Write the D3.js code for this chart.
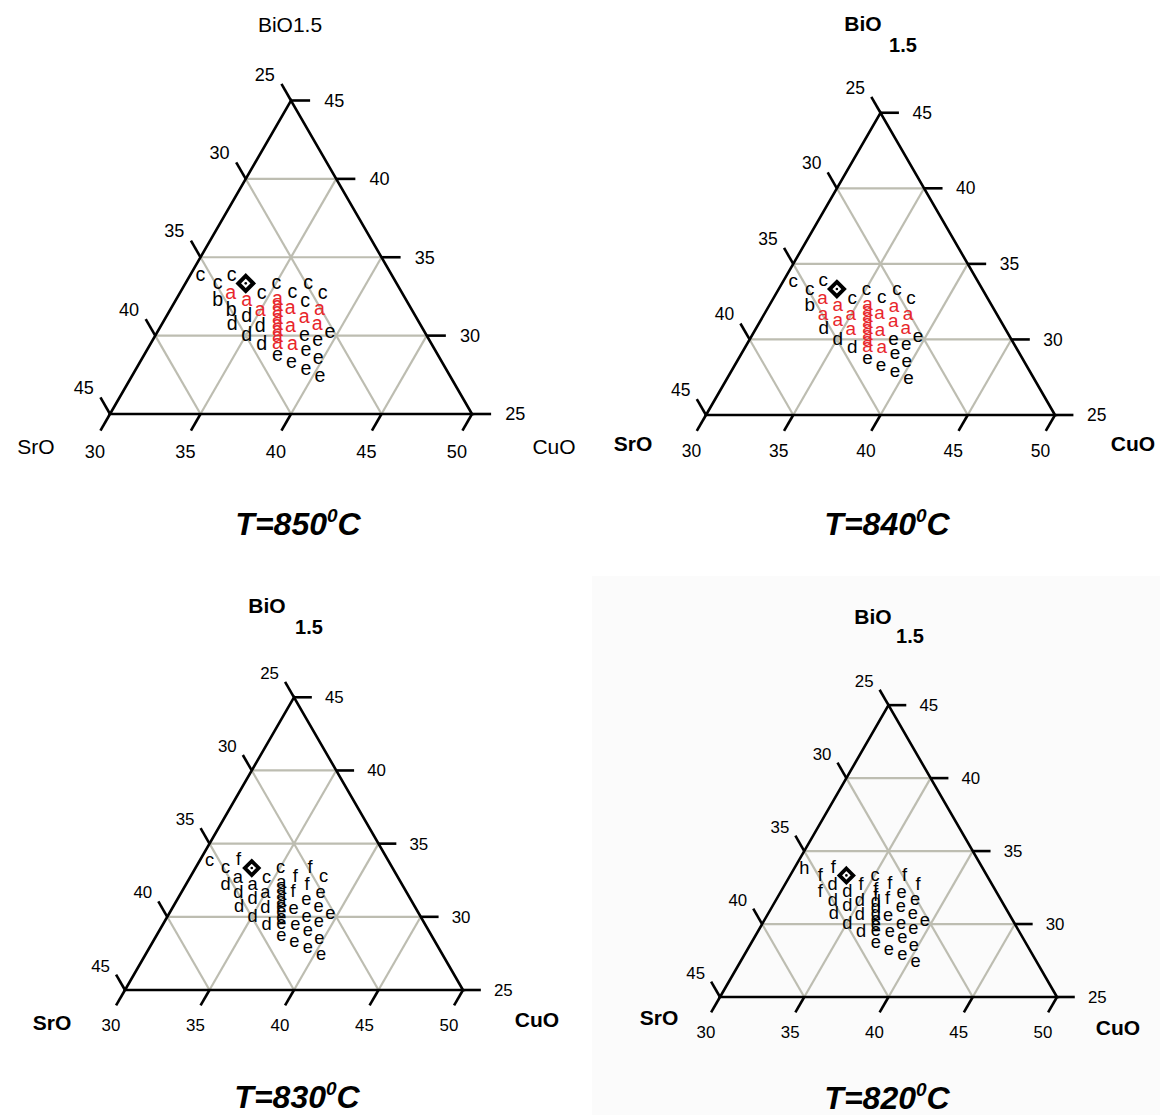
<!DOCTYPE html>
<html>
<head>
<meta charset="utf-8">
<script src="https://cdn.jsdelivr.net/npm/d3@7"></script>
<style>
  html, body { margin: 0; padding: 0; background: #ffffff; }
  svg { display: block; font-family: Arial, "Liberation Sans", sans-serif; }
</style>
</head>
<body>
<svg id="chart" width="1160" height="1115"></svg>
<script>
// Sample compositions in mol %: BiO1.5 and CuO (SrO = 100 - BiO1.5 - CuO)
const bismuth = [33.8, 33.85, 33.3, 33.3, 33.3, 32.65, 32.65, 32.75, 32.7, 32.2,
                 32.2, 32.15, 31.6, 31.6, 31.7, 31.65, 31.2, 31.15, 30.7, 30.6,
                 30.55, 30.7, 30.0, 30.0, 30.2, 29.45, 29.45, 29.65, 29.05, 28.7,
                 28.5, 28.25, 27.85, 27.4,
                 32.3, 31.9, 31.5, 31.1, 30.7, 30.3, 29.9, 29.5];
const copper  = [30.6, 32.3, 31.8, 35.05, 36.8, 32.85, 34.55, 36.2, 37.9, 32.35,
                 33.95, 37.2, 33.4, 35.0, 36.6, 38.25, 34.45, 37.65, 33.9, 35.5,
                 37.2, 38.6, 35.05, 38.25, 39.55, 36.15, 37.85, 39.15, 38.8, 37.4,
                 39.75, 38.4, 39.4, 40.4,
                 35.6, 35.8, 36.0, 36.2, 36.4, 36.6, 36.8, 37.0];

// Phase assemblage found for each sample after annealing
const phases850 = ["c","c","c","c","c","a","c","c","c","b","a","c","b","a","a","a","d","a","d","d",
                   "a","a","d","e","e","d","a","e","e","e","e","e","e","e",
                   "a","a","a","a","a","a","a","a"];
const phases840 = ["c","c","c","c","c","a","c","c","c","b","a","a","a","a","a","a","a","a","d","a",
                   "a","a","d","e","e","d","a","e","e","e","e","e","e","e",
                   "a","a","a","a","a","a","a","a"];
const phases830 = ["c","f","c","c","f","a","c","f","c","d","a","f","d","a","f","e","d","e","d","d",
                   "e","e","d","e","e","d","e","e","e","e","e","e","e","e",
                   "a","a","a","a","e","e","e","e"];
const phases820 = ["h","f","f","c","f","d","f","f","f","f","d","e","d","d","f","e","d","e","d","d",
                   "e","e","d","e","e","d","e","e","e","e","e","e","e","e",
                   "f","f","d","d","d","e","e","e"];

// Nominal Bi:Sr:Cu = 1:1:1 composition
const nominal = { bi: 100 / 3, cu: 100 / 3 };

// Axis ticks (mol %)
const cuTicks = [30, 35, 40, 45, 50];
const srTicks = [25, 30, 35, 40, 45];
const biTicks = [45, 40, 35, 30, 25];
const temperatures = ["850", "840", "830", "820"];

const svg = d3.select("#chart");

const panels = [
  { temp: temperatures[0], phases: phases850, x0: 110, y0: 414, side: 362, redA: true, bold: false,
    title: [290, 32], sro: [36, 454], cuo: [554, 454], caption: [298, 535] },
  { temp: temperatures[1], phases: phases840, x0: 706, y0: 415, side: 349, redA: true, bold: true,
    title: [863, 31], sub: [903, 52], sro: [633, 451], cuo: [1133, 451], caption: [887, 535] },
  { temp: temperatures[2], phases: phases830, x0: 125, y0: 990, side: 338, redA: false, bold: true,
    title: [267, 613], sub: [309, 634], sro: [52, 1030], cuo: [537, 1027], caption: [297, 1108] },
  { temp: temperatures[3], phases: phases820, x0: 720, y0: 997, side: 337, redA: false, bold: true,
    title: [873, 624], sub: [910, 643], sro: [659, 1025], cuo: [1118, 1035], caption: [887, 1109] }
];

// faint backdrop behind the lower-right diagram
svg.append("rect").attr("x", 592).attr("y", 576).attr("width", 568).attr("height", 539)
  .attr("fill", "#fbfbfb");

panels.forEach(drawPanel);

function drawPanel(p) {
  const k = p.side / 360;
  const h = p.side * Math.sqrt(3) / 2;
  const g = svg.append("g");

  // u runs along the base: (CuO - 30) + (BiO1.5 - 25)/2, 0..20
  const xs = d3.scaleLinear().domain([0, 20]).range([p.x0, p.x0 + p.side]);
  const ys = d3.scaleLinear().domain([25, 45]).range([p.y0, p.y0 - h]);
  const proj = (bi, cu) => [xs((cu - 30) + (bi - 25) / 2), ys(bi)];
  const line = d3.line();

  // interior grid
  const grid = [];
  [30, 35, 40].forEach(v => grid.push([proj(v, 30), proj(v, 75 - v)]));          // constant BiO1.5
  [35, 40, 45].forEach(v => grid.push([proj(25, v), proj(75 - v, v)]));          // constant CuO
  [30, 35, 40].forEach(v => grid.push([proj(25, 75 - v), proj(70 - v, 30)]));    // constant SrO
  g.selectAll(".grid").data(grid).join("path")
    .attr("d", d => line(d))
    .attr("stroke", "#bdbdb1").attr("stroke-width", 2.2).attr("fill", "none");

  // outline
  g.append("path")
    .attr("d", line([proj(25, 30), proj(25, 50), proj(45, 30)]) + "Z")
    .attr("fill", "none").attr("stroke", "#000").attr("stroke-width", 2.6)
    .attr("stroke-linejoin", "miter");

  const L = 19 * k;
  const tickStyle = sel => sel.attr("stroke", "#000").attr("stroke-width", 2.6).attr("fill", "none");
  const labelFont = 18 * k;

  // bottom axis: CuO
  cuTicks.forEach(v => {
    const [x, y] = proj(25, v);
    tickStyle(g.append("path").attr("d", line([[x, y], [x - 0.5 * L, y + 0.866 * L]])));
    g.append("text").attr("x", x - 15 * k).attr("y", y + 37 * k).attr("dy", "0.35em")
      .attr("text-anchor", "middle").attr("font-size", labelFont).text(v);
  });
  // left axis: SrO
  srTicks.forEach(v => {
    const [x, y] = proj(70 - v, 30);
    tickStyle(g.append("path").attr("d", line([[x, y], [x - 0.5 * L, y - 0.866 * L]])));
    g.append("text").attr("x", x - 26 * k).attr("y", y - 26 * k).attr("dy", "0.35em")
      .attr("text-anchor", "middle").attr("font-size", labelFont).text(v);
  });
  // right axis: BiO1.5
  biTicks.forEach(v => {
    const [x, y] = proj(v, 75 - v);
    tickStyle(g.append("path").attr("d", line([[x, y], [x + L, y]])));
    g.append("text").attr("x", x + 43 * k).attr("y", y).attr("dy", "0.35em")
      .attr("text-anchor", "middle").attr("font-size", labelFont).text(v);
  });

  // phase letters
  const samples = bismuth.map((b, i) => ({ bi: b, cu: copper[i], phase: p.phases[i] }));
  g.selectAll(".phase").data(samples).join("text")
    .attr("x", d => proj(d.bi, d.cu)[0])
    .attr("y", d => proj(d.bi, d.cu)[1])
    .attr("dy", "0.27em")
    .attr("text-anchor", "middle")
    .attr("font-size", 19.5 * k)
    .attr("fill", d => (p.redA && d.phase === "a") ? "#e8262b" : "#000")
    .text(d => d.phase);

  // nominal composition marker
  const [mx, my] = proj(nominal.bi, nominal.cu);
  const r = 7.4 * k;
  g.append("path")
    .attr("d", line([[mx, my - r], [mx + r, my], [mx, my + r], [mx - r, my]]) + "Z")
    .attr("fill", "#fff").attr("stroke", "#000").attr("stroke-width", 4 * k);
  g.append("circle").attr("cx", mx).attr("cy", my).attr("r", 1.3).attr("fill", "#000");

  // corner labels
  const wt = p.bold ? "bold" : "normal";
  if (p.bold) {
    g.append("text").attr("x", p.title[0]).attr("y", p.title[1]).attr("text-anchor", "middle")
      .attr("font-size", 21).attr("font-weight", "bold").text("BiO");
    g.append("text").attr("x", p.sub[0]).attr("y", p.sub[1]).attr("text-anchor", "middle")
      .attr("font-size", 20).attr("font-weight", "bold").text("1.5");
  } else {
    g.append("text").attr("x", p.title[0]).attr("y", p.title[1]).attr("text-anchor", "middle")
      .attr("font-size", 21).text("BiO1.5");
  }
  g.append("text").attr("x", p.sro[0]).attr("y", p.sro[1]).attr("text-anchor", "middle")
    .attr("font-size", 21).attr("font-weight", wt).text("SrO");
  g.append("text").attr("x", p.cuo[0]).attr("y", p.cuo[1]).attr("text-anchor", "middle")
    .attr("font-size", 21).attr("font-weight", wt).text("CuO");

  // temperature caption
  const cap = g.append("text").attr("x", p.caption[0]).attr("y", p.caption[1])
    .attr("text-anchor", "middle").attr("font-size", 32)
    .attr("font-weight", "bold").attr("font-style", "italic");
  cap.append("tspan").text("T=" + p.temp);
  cap.append("tspan").attr("font-size", 19).attr("dy", -13).text("0");
  cap.append("tspan").attr("dy", 13).text("C");
}
</script>
</body>
</html>
